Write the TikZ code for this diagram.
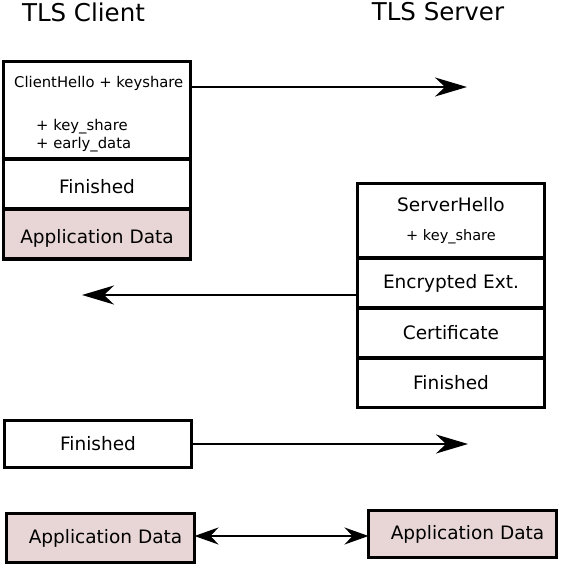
\documentclass[tikz,border=0pt]{standalone}
\usepackage{fontspec}
\setmainfont{DejaVu Sans}
\usetikzlibrary{arrows.meta,positioning}

\definecolor{appdata}{RGB}{232,214,214}

\tikzstyle{msgbox} = [rectangle, draw=black, line width=3.3pt, minimum width=187pt, minimum height=50pt, inner sep=0pt, outer sep=0pt, text centered, font=\fontsize{18.5}{22}\selectfont]
\tikzstyle{appbox} = [msgbox, fill=appdata]
\tikzstyle{lowtext} = [text height=19pt, text depth=0pt]
\tikzstyle{smalltext} = [inner sep=0pt, font=\fontsize{14.8}{18}\selectfont]
\tikzstyle{title} = [inner sep=0pt, font=\fontsize{24.5}{28}\selectfont]
\tikzstyle{arrow} = [line width=2.2pt,-{Stealth[length=32pt,width=19pt,inset=10pt]}]
\tikzstyle{biarrow} = [line width=1.4pt,{Stealth[length=24pt,width=17pt,inset=8pt]}-{Stealth[length=24pt,width=17pt,inset=8pt]}]

\begin{document}
\begin{tikzpicture}[x=1pt, y=-1pt]
\useasboundingbox (0,0) rectangle (560,565);

\node (tclient) [title] at (83.5,12) {TLS Client};
\node (tserver) [title] at (438,12) {TLS Server};

% client flight 1
\node (chello) [msgbox, minimum height=97.5pt] at (97,110.25) {};
\node (cfin) [msgbox, lowtext, below=0pt of chello] {Finished};
\node (capp) [appbox, lowtext, below=0pt of cfin] {Application Data};
\node (chtxt) [smalltext, anchor=west] at (14,83) {ClientHello + keyshare};
\node (chext) [smalltext, anchor=west, align=left] at (36,136) {+ key\_share\\+ early\_data};

% server flight
\node (shello) [msgbox, minimum height=74.5pt, align=center] at (451,220.75) {ServerHello\\[7pt]{\fontsize{14.5}{17}\selectfont + key\_share}};
\node (senc) [msgbox, below=0pt of shello] {Encrypted Ext.};
\node (scert) [msgbox, below=0pt of senc] {Certificate};
\node (sfin) [msgbox, minimum height=49.5pt, below=0pt of scert] {Finished};

% client flight 2
\node (cfin2) [msgbox, minimum height=47pt] at (98,444) {Finished};
\node (capp2) [appbox, minimum width=188pt, minimum height=49pt] at (100.5,538) {\hspace{10pt}Application Data};
\node (sapp) [appbox, minimum width=188pt, minimum height=47pt] at (462.5,534) {\hspace{10pt}Application Data};

\coordinate (chend) at (467,87);
\coordinate (shend) at (82,295);
\coordinate (cfend) at (468,444);
\coordinate (appmid) at (280,536);

\draw [arrow] (chello.east |- chend) -- (chend);
\draw [arrow] (senc.west |- shend) -- (shend);
\draw [arrow] (cfin2.east) -- (cfend);
\draw [biarrow] (capp2.east |- appmid) -- (sapp.west |- appmid);

\end{tikzpicture}
\end{document}
